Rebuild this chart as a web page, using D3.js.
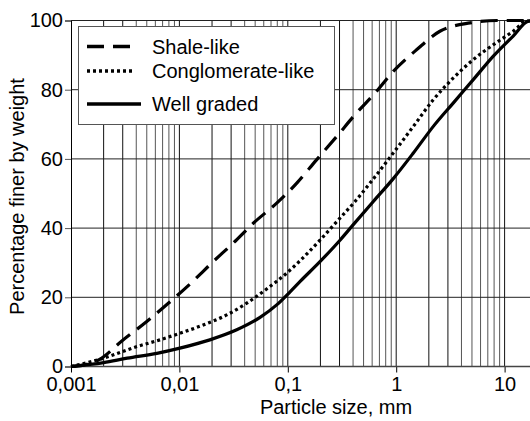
<!DOCTYPE html>
<html><head><meta charset="utf-8">
<script src="https://cdn.jsdelivr.net/npm/d3@7"></script>
<style>body{margin:0;background:#fff;} svg{display:block;} text{font-family:"Liberation Sans",Arial,sans-serif;}</style>
</head><body>
<svg id="c" width="530" height="421"></svg>
<script>
const shaleX = [0.001,0.0013,0.0018,0.003,0.005,0.008,0.0127,0.02,0.0314,0.048,0.079,0.121,0.185,0.283,0.417,0.637,0.94,1.55,2.53,4.8,8.5,20];
const shaleY = [0,0.4,1.9,7.6,13,18.4,24,30,35.7,41.4,47.2,53,59.8,66.5,72.8,79,85.3,91.6,96.9,99.3,100,100];
const conglX = [0.001,0.002,0.004,0.0066,0.0101,0.0166,0.0273,0.0418,0.0638,0.0977,0.13,0.198,0.303,0.417,0.573,0.94,1.44,2.2,3.37,5.14,7.87,12,16,20];
const conglY = [0,2.4,5.7,7.7,9.6,12,14.9,18.3,22.4,27.0,30.6,36.5,42.9,47.7,53,61.7,69.4,77.1,83.4,88.7,93,96.9,99.8,100];
const wellX = [0.001,0.002,0.0033,0.0062,0.0101,0.0191,0.0338,0.0555,0.079,0.105,0.13,0.198,0.303,0.402,0.615,0.94,1.44,2.2,3.37,5.14,7.87,12,16.6,20];
const wellY = [0,1.1,2.4,3.8,5.3,7.7,10.6,14.2,17.8,21.6,24.6,30.3,36.5,41,47.7,54.3,61.7,69.4,76.2,82.9,89.7,95.5,99.8,100];
const seriesNames = ["Shale-like","Conglomerate-like","Well graded"];
const yTicks = [0,20,40,60,80,100];
const xTickVals = [0.001,0.01,0.1,1,10];
const xTickLabels = ["0,001","0,01","0,1","1","10"];

const FS = 20;
const svg = d3.select("#c");
const x = d3.scaleLog().domain([0.001,20]).range([71, 71 + 108.4*Math.log10(20000)]);
const y = d3.scaleLinear().domain([0,100]).range([366.5,20.5]);
const xMax = 530;

// vertical grid
const gridVals = [];
for (let e=-3;e<=1;e++) for (let m=1;m<=9;m++){ const v=m*Math.pow(10,e); if (v<=20) gridVals.push(v); }
svg.append("g").selectAll("line").data(gridVals.filter(v=>v>0.001)).join("line")
  .attr("x1",d=>x(d)).attr("x2",d=>x(d)).attr("y1",y(100)).attr("y2",y(0))
  .attr("stroke",d=>[1,2,3].includes(Math.round(d/Math.pow(10,Math.floor(Math.log10(d)+1e-9))))?"#111":"#555").attr("stroke-width",1);
svg.append("g").selectAll("line").data(yTicks.filter(v=>v>0)).join("line")
  .attr("x1",x(0.001)).attr("x2",xMax).attr("y1",d=>y(d)).attr("y2",d=>y(d))
  .attr("stroke","#222").attr("stroke-width",1);

// axes
const yAxis = d3.axisLeft(y).tickValues(yTicks).tickSize(6).tickPadding(2);
const gy = svg.append("g").attr("transform",`translate(${x(0.001)},0)`).call(yAxis);
gy.select(".domain").attr("stroke","#000");
gy.selectAll(".tick line").attr("stroke","#555");
gy.selectAll("text").attr("font-size",FS).attr("fill","#000").attr("font-family","Liberation Sans, Arial, sans-serif");

const xAxis = d3.axisBottom(x).tickValues(xTickVals).tickFormat((d,i)=>xTickLabels[i]).tickSize(6).tickPadding(4);
const gx = svg.append("g").attr("transform",`translate(0,${y(0)})`).call(xAxis);
gx.select(".domain").remove();
gx.append("line").attr("x1",x(0.001)).attr("x2",xMax).attr("stroke","#444").attr("stroke-width",1.5);
gx.selectAll("text").attr("font-size",FS).attr("fill","#000").attr("font-family","Liberation Sans, Arial, sans-serif");
gx.selectAll(".tick line").attr("stroke","#000");

// top border
svg.append("line").attr("x1",x(0.001)).attr("x2",xMax).attr("y1",y(100)).attr("y2",y(100)).attr("stroke","#222");

// curves
const line = d3.line().x(d=>x(d[0])).y(d=>y(d[1])).curve(d3.curveMonotoneX);
const series = [
  {pts: d3.zip(shaleX,shaleY), dash:"17,9", w:3.2},
  {pts: d3.zip(conglX,conglY), dash:"3,3", w:3.2},
  {pts: d3.zip(wellX,wellY), dash:null, w:3.2}
];
svg.append("clipPath").attr("id","cp").append("rect").attr("x",x(0.001)-2).attr("y",y(100)-2).attr("width",xMax).attr("height",y(0)-y(100)+4);
svg.append("g").attr("clip-path","url(#cp)").selectAll("path").data(series).join("path")
  .attr("d",d=>line(d.pts)).attr("fill","none").attr("stroke","#000")
  .attr("stroke-width",d=>d.w).attr("stroke-dasharray",d=>d.dash);

// legend
const lg = svg.append("g");
lg.append("rect").attr("x",78.5).attr("y",26.5).attr("width",256).attr("height",98)
  .attr("fill","#fff").attr("stroke","#555").attr("stroke-width",1);
const ly = [46.5,71,104];
seriesNames.forEach((n,i)=>{
  lg.append("line").attr("x1",87).attr("x2",i==2?141:135).attr("y1",ly[i]).attr("y2",ly[i])
    .attr("stroke","#000").attr("stroke-width",series[i].w+0.5).attr("stroke-dasharray",series[i].dash);
  lg.append("text").attr("x",152).attr("y",ly[i]+7).attr("font-size",FS).text(n);
});

// axis titles
svg.append("text").attr("x",336).attr("y",414).attr("text-anchor","middle").attr("font-size",FS).text("Particle size, mm");
svg.append("text").attr("transform",`translate(24,${(y(0)+y(100))/2+3}) rotate(-90)`).attr("text-anchor","middle").attr("font-size",FS).text("Percentage finer by weight");
</script>
</body></html>
